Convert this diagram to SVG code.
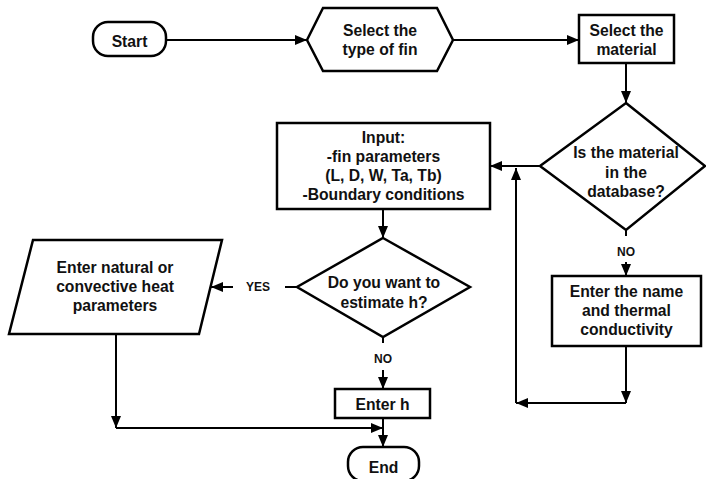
<svg xmlns="http://www.w3.org/2000/svg" width="706" height="479" viewBox="0 0 706 479">
<style>
.s{fill:#fff;stroke:#000;stroke-width:2.5;stroke-linejoin:miter}
.c{fill:none;stroke:#000;stroke-width:2}
.t{font-family:"Liberation Sans",Arial,sans-serif;font-weight:bold;font-size:15.7px;text-anchor:middle;fill:#111}
.l{font-family:"Liberation Sans",Arial,sans-serif;font-weight:bold;font-size:12px;text-anchor:middle;fill:#111}
</style>
<defs>
<marker id="a" viewBox="0 0 12 10" refX="12" refY="5" markerWidth="12" markerHeight="10" markerUnits="userSpaceOnUse" orient="auto">
<path d="M0,0 L12,5 L0,10 Z" fill="#000"/>
</marker>
</defs>
<rect width="706" height="479" fill="#fff"/>
<g id="connectors">
<path class="c" d="M166,40 H307" marker-end="url(#a)"/>
<path class="c" d="M453,40 H579" marker-end="url(#a)"/>
<path class="c" d="M626,63 V103" marker-end="url(#a)"/>
<path class="c" d="M540,166 H490" marker-end="url(#a)"/>
<path class="c" d="M626,230 V236"/>
<path class="c" d="M626,262 V276" marker-end="url(#a)"/>
<path class="c" d="M626,346 V403" marker-end="url(#a)"/>
<path class="c" d="M626,403 H516" marker-end="url(#a)"/>
<path class="c" d="M516,403 V168" marker-end="url(#a)"/>
<path class="c" d="M383,209 V238" marker-end="url(#a)"/>
<path class="c" d="M297,287 H285"/>
<path class="c" d="M233,287 H211" marker-end="url(#a)"/>
<path class="c" d="M383,337 V343"/>
<path class="c" d="M383,370 V389" marker-end="url(#a)"/>
<path class="c" d="M116,334 V428" marker-end="url(#a)"/>
<path class="c" d="M116,428 H383" marker-end="url(#a)"/>
<path class="c" d="M383,418 V447" marker-end="url(#a)"/>
<text class="l" x="258" y="291">YES</text>
<text class="l" x="626" y="256">NO</text>
<text class="l" x="383" y="363">NO</text>
</g>
<g id="start">
<rect class="s" x="93" y="22" width="73" height="34" rx="15"/>
<text class="t" x="129.5" y="47">Start</text>
</g>
<g id="select-fin">
<polygon class="s" points="307,40 323,8 437,8 453,40 437,71 323,71"/>
<text class="t" x="380" y="36">Select the</text>
<text class="t" x="380" y="55">type of fin</text>
</g>
<g id="select-material">
<rect class="s" x="579" y="15" width="95" height="48"/>
<text class="t" x="626.5" y="36">Select the</text>
<text class="t" x="626.5" y="55">material</text>
</g>
<g id="in-database">
<polygon class="s" points="626,103 705,166 626,230 540,166"/>
<text class="t" x="626" y="158">Is the material</text>
<text class="t" x="626" y="178">in the</text>
<text class="t" x="626" y="197">database?</text>
</g>
<g id="enter-name">
<rect class="s" x="552" y="276" width="149" height="70"/>
<text class="t" x="626.5" y="297">Enter the name</text>
<text class="t" x="626.5" y="316">and thermal</text>
<text class="t" x="626.5" y="335">conductivity</text>
</g>
<g id="input">
<rect class="s" x="277" y="123" width="213" height="86"/>
<text class="t" x="383.5" y="143">Input:</text>
<text class="t" x="383.5" y="162">-fin parameters</text>
<text class="t" x="383.5" y="181">(L, D, W, Ta, Tb)</text>
<text class="t" x="383.5" y="200">-Boundary conditions</text>
</g>
<g id="estimate-h">
<polygon class="s" points="383,238 470,287 383,337 297,287"/>
<text class="t" x="384" y="288">Do you want to</text>
<text class="t" x="384" y="308">estimate h?</text>
</g>
<g id="enter-heat-params">
<polygon class="s" points="33,240 222,240 199,334 9,334"/>
<text class="t" x="115" y="273">Enter natural or</text>
<text class="t" x="115" y="292">convective heat</text>
<text class="t" x="115" y="311">parameters</text>
</g>
<g id="enter-h">
<rect class="s" x="335" y="389" width="95" height="29"/>
<text class="t" x="382.5" y="410">Enter h</text>
</g>
<g id="end">
<rect class="s" x="348" y="447" width="71" height="34" rx="15"/>
<text class="t" x="383.5" y="473">End</text>
</g>
</svg>
